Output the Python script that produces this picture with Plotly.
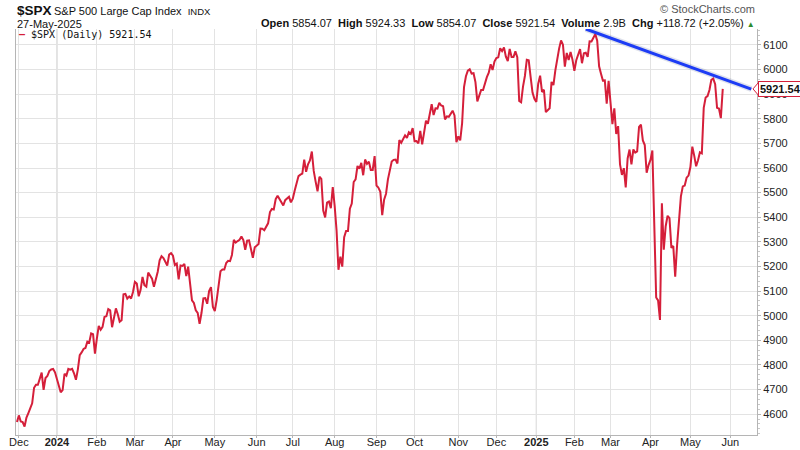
import plotly.graph_objects as go

dates = [
"2023-11-30","2023-12-01","2023-12-04","2023-12-05","2023-12-06","2023-12-07","2023-12-08","2023-12-11","2023-12-12","2023-12-13","2023-12-14","2023-12-15","2023-12-18","2023-12-19","2023-12-20","2023-12-21","2023-12-22","2023-12-26","2023-12-27","2023-12-28","2023-12-29",
"2024-01-02","2024-01-03","2024-01-04","2024-01-05","2024-01-08","2024-01-09","2024-01-10","2024-01-11","2024-01-12","2024-01-16","2024-01-17","2024-01-18","2024-01-19","2024-01-22","2024-01-23","2024-01-24","2024-01-25","2024-01-26","2024-01-29","2024-01-30","2024-01-31",
"2024-02-01","2024-02-02","2024-02-05","2024-02-06","2024-02-07","2024-02-08","2024-02-09","2024-02-12","2024-02-13","2024-02-14","2024-02-15","2024-02-16","2024-02-20","2024-02-21","2024-02-22","2024-02-23","2024-02-26","2024-02-27","2024-02-28","2024-02-29",
"2024-03-01","2024-03-04","2024-03-05","2024-03-06","2024-03-07","2024-03-08","2024-03-11","2024-03-12","2024-03-13","2024-03-14","2024-03-15","2024-03-18","2024-03-19","2024-03-20","2024-03-21","2024-03-22","2024-03-25","2024-03-26","2024-03-27","2024-03-28",
"2024-04-01","2024-04-02","2024-04-03","2024-04-04","2024-04-05","2024-04-08","2024-04-09","2024-04-10","2024-04-11","2024-04-12","2024-04-15","2024-04-16","2024-04-17","2024-04-18","2024-04-19","2024-04-22","2024-04-23","2024-04-24","2024-04-25","2024-04-26","2024-04-29","2024-04-30",
"2024-05-01","2024-05-02","2024-05-03","2024-05-06","2024-05-07","2024-05-08","2024-05-09","2024-05-10","2024-05-13","2024-05-14","2024-05-15","2024-05-16","2024-05-17","2024-05-20","2024-05-21","2024-05-22","2024-05-23","2024-05-24","2024-05-28","2024-05-29","2024-05-30","2024-05-31",
"2024-06-03","2024-06-04","2024-06-05","2024-06-06","2024-06-07","2024-06-10","2024-06-11","2024-06-12","2024-06-13","2024-06-14","2024-06-17","2024-06-18","2024-06-20","2024-06-21","2024-06-24","2024-06-25","2024-06-26","2024-06-27","2024-06-28",
"2024-07-01","2024-07-02","2024-07-03","2024-07-05","2024-07-08","2024-07-09","2024-07-10","2024-07-11","2024-07-12","2024-07-15","2024-07-16","2024-07-17","2024-07-18","2024-07-19","2024-07-22","2024-07-23","2024-07-24","2024-07-25","2024-07-26","2024-07-29","2024-07-30","2024-07-31",
"2024-08-01","2024-08-02","2024-08-05","2024-08-06","2024-08-07","2024-08-08","2024-08-09","2024-08-12","2024-08-13","2024-08-14","2024-08-15","2024-08-16","2024-08-19","2024-08-20","2024-08-21","2024-08-22","2024-08-23","2024-08-26","2024-08-27","2024-08-28","2024-08-29","2024-08-30",
"2024-09-03","2024-09-04","2024-09-05","2024-09-06","2024-09-09","2024-09-10","2024-09-11","2024-09-12","2024-09-13","2024-09-16","2024-09-17","2024-09-18","2024-09-19","2024-09-20","2024-09-23","2024-09-24","2024-09-25","2024-09-26","2024-09-27","2024-09-30",
"2024-10-01","2024-10-02","2024-10-03","2024-10-04","2024-10-07","2024-10-08","2024-10-09","2024-10-10","2024-10-11","2024-10-14","2024-10-15","2024-10-16","2024-10-17","2024-10-18","2024-10-21","2024-10-22","2024-10-23","2024-10-24","2024-10-25","2024-10-28","2024-10-29","2024-10-30","2024-10-31",
"2024-11-01","2024-11-04","2024-11-05","2024-11-06","2024-11-07","2024-11-08","2024-11-11","2024-11-12","2024-11-13","2024-11-14","2024-11-15","2024-11-18","2024-11-19","2024-11-20","2024-11-21","2024-11-22","2024-11-25","2024-11-26","2024-11-27","2024-11-29",
"2024-12-02","2024-12-03","2024-12-04","2024-12-05","2024-12-06","2024-12-09","2024-12-10","2024-12-11","2024-12-12","2024-12-13","2024-12-16","2024-12-17","2024-12-18","2024-12-19","2024-12-20","2024-12-23","2024-12-24","2024-12-26","2024-12-27","2024-12-30","2024-12-31",
"2025-01-02","2025-01-03","2025-01-06","2025-01-07","2025-01-08","2025-01-10","2025-01-13","2025-01-14","2025-01-15","2025-01-16","2025-01-17","2025-01-21","2025-01-22","2025-01-23","2025-01-24","2025-01-27","2025-01-28","2025-01-29","2025-01-30","2025-01-31",
"2025-02-03","2025-02-04","2025-02-05","2025-02-06","2025-02-07","2025-02-10","2025-02-11","2025-02-12","2025-02-13","2025-02-14","2025-02-18","2025-02-19","2025-02-20","2025-02-21","2025-02-24","2025-02-25","2025-02-26","2025-02-27","2025-02-28",
"2025-03-03","2025-03-04","2025-03-05","2025-03-06","2025-03-07","2025-03-10","2025-03-11","2025-03-12","2025-03-13","2025-03-14","2025-03-17","2025-03-18","2025-03-19","2025-03-20","2025-03-21","2025-03-24","2025-03-25","2025-03-26","2025-03-27","2025-03-28","2025-03-31",
"2025-04-01","2025-04-02","2025-04-03","2025-04-04","2025-04-07","2025-04-08","2025-04-09","2025-04-10","2025-04-11","2025-04-14","2025-04-15","2025-04-16","2025-04-17","2025-04-21","2025-04-22","2025-04-23","2025-04-24","2025-04-25","2025-04-28","2025-04-29","2025-04-30",
"2025-05-01","2025-05-02","2025-05-05","2025-05-06","2025-05-07","2025-05-08","2025-05-09","2025-05-12","2025-05-13","2025-05-14","2025-05-15","2025-05-16","2025-05-19","2025-05-20","2025-05-21","2025-05-22","2025-05-23","2025-05-27",
]

close = [
4567.80,4594.63,4569.78,4567.18,4549.34,4585.59,4604.37,4622.44,4643.70,4707.09,4719.55,4719.19,4740.56,4768.37,4698.35,4746.75,4754.63,4774.75,4781.58,4783.35,4769.83,
4742.83,4704.81,4688.68,4697.24,4763.54,4756.50,4783.45,4780.24,4783.83,4765.98,4739.21,4780.94,4839.81,4850.43,4864.60,4868.55,4894.16,4890.97,4927.93,4924.97,4845.65,
4906.19,4958.61,4942.81,4954.23,4995.06,4997.91,5026.61,5021.84,4953.17,5000.62,5029.73,5005.57,4975.51,4981.80,5087.03,5088.80,5069.53,5078.18,5069.76,5096.27,
5137.08,5130.95,5078.65,5104.76,5157.36,5123.69,5117.94,5175.27,5165.31,5150.48,5117.09,5149.42,5178.51,5224.62,5241.53,5234.18,5218.19,5203.58,5248.49,5254.35,
5243.77,5205.81,5211.49,5147.21,5204.34,5202.39,5209.91,5160.64,5199.06,5123.41,5061.82,5051.41,5022.21,5011.12,4967.23,5010.60,5070.55,5071.63,5048.42,5099.96,5116.17,5035.69,
5018.39,5064.20,5127.79,5180.74,5187.70,5187.67,5214.08,5222.68,5221.42,5246.68,5308.15,5297.10,5303.27,5308.13,5321.41,5307.01,5267.84,5304.72,5306.04,5266.95,5235.48,5277.51,
5283.40,5291.34,5354.03,5352.96,5346.99,5360.79,5375.32,5421.03,5433.74,5431.60,5473.23,5487.03,5473.17,5464.62,5447.87,5469.30,5477.90,5482.87,5460.48,
5475.09,5509.01,5537.02,5567.19,5572.85,5576.98,5633.91,5584.54,5615.35,5631.22,5667.20,5588.27,5544.59,5505.00,5564.41,5555.74,5427.13,5399.22,5459.10,5463.54,5436.44,5522.30,
5446.68,5346.56,5186.33,5240.03,5199.50,5319.31,5344.16,5344.39,5434.43,5455.21,5543.22,5554.25,5608.25,5597.12,5620.85,5570.64,5634.61,5616.84,5625.80,5592.18,5591.96,5648.40,
5528.93,5520.07,5503.41,5408.42,5471.05,5495.52,5554.13,5595.76,5626.02,5633.09,5634.58,5618.26,5713.64,5702.55,5718.57,5732.93,5722.26,5745.37,5738.17,5762.48,
5708.75,5709.54,5699.94,5751.07,5695.94,5751.13,5792.04,5780.05,5815.03,5859.85,5815.26,5842.47,5841.47,5864.67,5853.98,5851.20,5797.42,5809.86,5808.12,5823.52,5832.92,5813.67,5705.45,
5728.80,5712.69,5782.76,5929.04,5973.10,5995.54,6001.35,5983.99,5985.38,5949.17,5870.62,5893.62,5916.98,5917.11,5948.71,5969.34,5987.37,6021.63,5998.74,6032.38,
6047.15,6049.88,6086.49,6075.11,6090.27,6052.85,6034.91,6084.19,6051.25,6051.09,6074.08,6050.61,5872.16,5867.08,5930.85,5974.07,6040.04,6037.59,5970.84,5906.94,5881.63,
5868.55,5942.47,5975.38,5909.03,5918.25,5827.04,5836.22,5842.91,5949.91,5937.34,5996.66,6049.24,6086.37,6118.71,6101.24,6012.28,6067.70,6039.31,6071.17,6040.53,
5994.57,6037.88,6061.48,6083.57,6025.99,6066.44,6068.50,6051.97,6115.07,6114.63,6129.58,6144.15,6117.52,6013.13,5983.25,5955.25,5956.06,5861.57,5954.50,
5849.72,5778.15,5842.63,5738.52,5770.20,5614.56,5572.07,5599.30,5521.52,5638.94,5675.12,5614.66,5675.29,5662.89,5667.56,5767.57,5776.65,5712.20,5693.31,5580.94,5611.85,
5633.07,5670.97,5396.52,5074.08,5062.25,4982.77,5456.90,5268.05,5363.36,5405.97,5396.63,5275.70,5282.70,5158.20,5287.76,5375.86,5484.77,5525.21,5528.75,5560.83,5569.06,
5604.14,5686.67,5650.38,5606.91,5631.28,5663.94,5659.91,5844.19,5886.55,5892.58,5916.93,5958.38,5963.60,5940.46,5844.61,5842.01,5802.82,5921.54,
]

holidays = ["2023-12-25","2024-01-01","2024-01-15","2024-02-19","2024-03-29","2024-05-27",
            "2024-06-19","2024-07-04","2024-09-02","2024-11-28","2024-12-25","2025-01-01",
            "2025-01-09","2025-01-20","2025-02-17","2025-04-18","2025-05-26","2025-06-19"]

tick_dates = ["2023-12-01","2024-01-02","2024-02-01","2024-03-01","2024-04-01","2024-05-01",
              "2024-06-03","2024-07-01","2024-08-01","2024-09-03","2024-10-01","2024-11-01",
              "2024-12-02","2025-01-02","2025-02-03","2025-03-03","2025-04-01","2025-05-01","2025-06-02"]
tick_labels = ["Dec","<b>2024</b>","Feb","Mar","Apr","May","Jun","Jul","Aug","Sep","Oct","Nov",
               "Dec","<b>2025</b>","Feb","Mar","Apr","May","Jun"]
year_dates = ["2024-01-02","2025-01-02"]

y_ticks = [4600,4700,4800,4900,5000,5100,5200,5300,5400,5500,5600,5700,5800,5900,6000,6100]

trend_dates = ["2025-02-11","2025-06-17"]
trend_values = [6165, 5921]

RED = "#d51f3a"
BLUE = "#1d3cf5"
FONT = "Liberation Sans"

W, H = 800, 450
ML, MR, MT, MB = 16, 43, 29, 15
PW, PH = W - ML - MR, H - MT - MB


def px(x):
    return (x - ML) / PW


def py(y):
    return (H - MB - y) / PH


fig = go.Figure()
fig.add_trace(go.Scatter(x=trend_dates, y=trend_values, mode="lines",
                         line=dict(color="rgba(40,60,120,0.15)", width=6),
                         hoverinfo="skip", showlegend=False, cliponaxis=False))
fig.add_trace(go.Scatter(x=dates, y=close, mode="lines",
                         line=dict(color=RED, width=2), showlegend=False))
fig.add_trace(go.Scatter(x=trend_dates, y=trend_values, mode="lines",
                         line=dict(color=BLUE, width=3), showlegend=False, cliponaxis=False))

last_val = close[-1]

shapes = []
for d in year_dates:
    shapes.append(dict(type="line", xref="x", yref="paper", x0=d, x1=d, y0=0, y1=1,
                       line=dict(color="#bdbdbd", width=1), layer="below"))
# pointer notch of the last-value tag
shapes.append(dict(type="path", xref="paper", yref="y",
                   path=f"M {px(758.5)},{last_val + 26} L {px(753)},{last_val} L {px(758.5)},{last_val - 26}",
                   line=dict(color=RED, width=1), fillcolor="white"))

fig.update_layout(
    width=W, height=H,
    margin=dict(l=ML, r=MR, t=MT, b=MB),
    paper_bgcolor="white", plot_bgcolor="white",
    font=dict(family=FONT, size=11, color="#222"),
    shapes=shapes,
    xaxis=dict(
        type="date",
        range=["2023-11-29 12:00", "2025-06-23"],
        rangebreaks=[dict(bounds=["sat", "mon"]), dict(values=holidays)],
        tickvals=tick_dates, ticktext=tick_labels,
        showgrid=True, gridcolor="#e3e3e3", gridwidth=1,
        showline=True, linecolor="#b5b5b5", linewidth=1,
        ticks="outside", ticklen=2, tickcolor="#b5b5b5",
        ticklabelstandoff=-5,
        tickfont=dict(family=FONT, size=11, color="#222"),
        zeroline=False, automargin=False, fixedrange=True,
    ),
    yaxis=dict(
        side="right", range=[4515, 6165],
        tickvals=y_ticks,
        showgrid=True, gridcolor="#e3e3e3", gridwidth=1,
        showline=True, linecolor="#b5b5b5", linewidth=1, mirror=True,
        ticks="outside", ticklen=3, tickcolor="#b5b5b5",
        minor=dict(dtick=20, ticks="outside", ticklen=2, tickcolor="#c8c8c8", showgrid=False),
        tickfont=dict(family=FONT, size=11, color="#222"),
        zeroline=False, automargin=False, fixedrange=True,
    ),
)

annotations = [
    dict(xref="paper", yref="paper", x=px(15), y=py(11), xanchor="left", yanchor="middle",
         text="<b>$SPX</b>", showarrow=False, font=dict(family=FONT, size=13.5, color="#111")),
    dict(xref="paper", yref="paper", x=px(52), y=py(11), xanchor="left", yanchor="middle",
         text="S&P 500 Large Cap Index  <span style='font-size:9.5px'>INDX</span>", showarrow=False,
         font=dict(family=FONT, size=11, color="#111")),
    dict(xref="paper", yref="paper", x=px(15), y=py(24), xanchor="left", yanchor="middle",
         text="27-May-2025", showarrow=False, font=dict(family=FONT, size=11, color="#111")),
    dict(xref="paper", yref="paper", x=px(757), y=py(23), xanchor="right", yanchor="middle",
         text="<b>Open</b> 5854.07  <b>High</b> 5924.33  <b>Low</b> 5854.07  <b>Close</b> 5921.54  "
              "<b>Volume</b> 2.9B  <b>Chg</b> +118.72 (+2.05%) <span style='color:#2e8b2e;font-size:8px'>▲</span>",
         showarrow=False, font=dict(family=FONT, size=11, color="#111")),
    dict(xref="paper", yref="paper", x=px(757), y=py(9), xanchor="right", yanchor="middle",
         text="© StockCharts.com", showarrow=False, font=dict(family=FONT, size=11, color="#555")),
    dict(xref="paper", yref="paper", x=px(17), y=py(35), xanchor="left", yanchor="middle",
         text=f"<span style='color:{RED}'><b>—</b></span> $SPX (Daily) {last_val:.2f}",
         showarrow=False, font=dict(family="DejaVu Sans Mono", size=10, color="#111")),
    dict(xref="paper", yref="y", x=px(758), y=last_val, xanchor="left", yanchor="middle",
         text=f"<b>{last_val:.2f}</b>", showarrow=False, bgcolor="white",
         bordercolor=RED, borderwidth=1, borderpad=1,
         font=dict(family=FONT, size=11, color="#111")),
]
fig.update_layout(annotations=annotations)

fig.write_html("out.html", config={"displayModeBar": False},
               post_script="document.body.style.margin='0';document.body.style.overflow='hidden';")
